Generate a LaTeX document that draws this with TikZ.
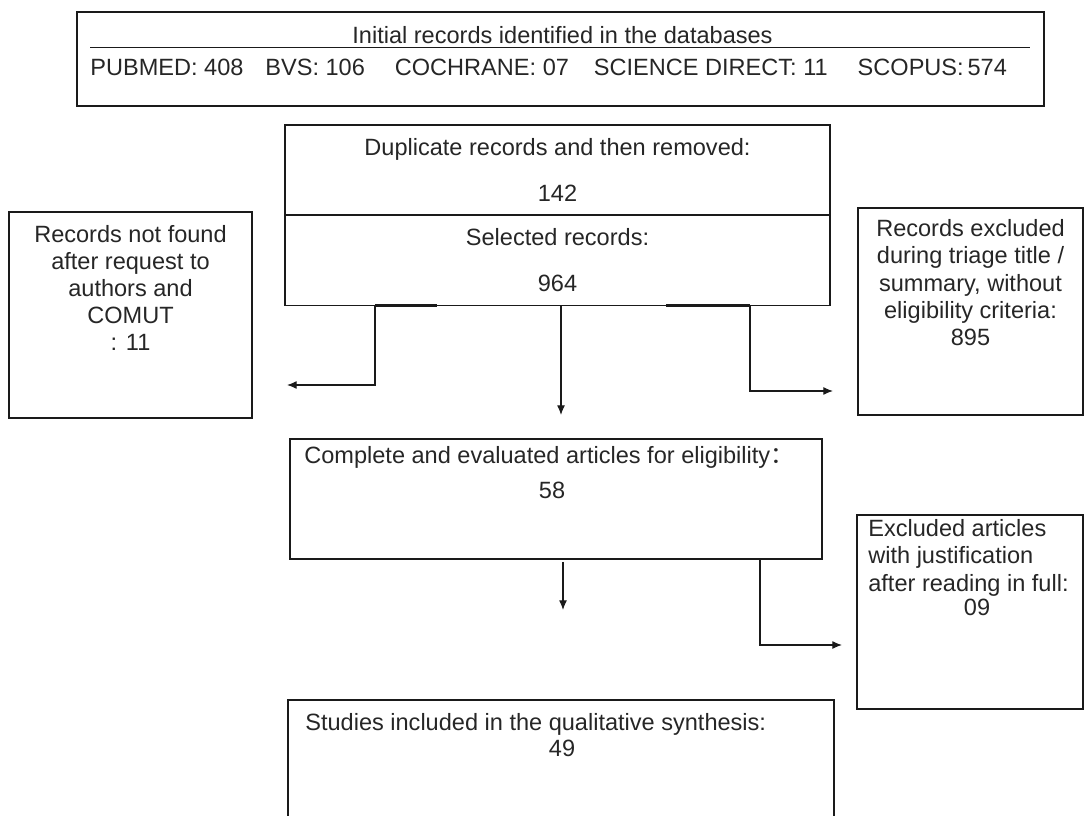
\documentclass[tikz,border=0pt]{standalone}
\usepackage{fontspec}
\setmainfont{Liberation Sans}
\newfontfamily\cjk{Noto Sans CJK SC}
\usepackage{tikz}
\usetikzlibrary{calc,arrows.meta}
\usetikzlibrary{positioning}
\definecolor{pr-line}{HTML}{1A1A1A}
\definecolor{pr-text}{HTML}{262626}

\begin{document}
\begin{tikzpicture}[
    >={Latex[length=5.5pt,width=4.5pt]},
    box/.style={draw=pr-line, line width=0.9pt, inner sep=0pt, outer sep=0pt},
    txt/.style={font=\fontsize{13.4}{15.4}\selectfont, text=pr-text, inner sep=0pt},
    conn/.style={->, line width=0.6pt, draw=pr-line},
    tab/.style={line width=1.6pt, draw=pr-line}
]
\useasboundingbox (0,0) rectangle (21.7,16.3);
\clip (0,0) rectangle (21.7,16.3);

% ── Registros iniciais nas bases ──────────────────────────────
\node[box, minimum width=19.34cm, minimum height=1.88cm] (db) at (11.21, 15.12) {};
\node[txt] (dbhead) at (11.25, 15.6) {Initial records identified in the databases};
\draw[line width=0.8pt, draw=pr-line] (1.8, 15.35) -- (20.6, 15.35);
\node[txt, anchor=west] (dblist) at (1.8, 14.96) {PUBMED: 408\hspace{0.44cm}BVS: 106\hspace{0.6cm}COCHRANE: 07\hspace{0.5cm}SCIENCE DIRECT: 11\hspace{0.6cm}SCOPUS:\,574};

% ── Duplicados / selecionados ─────────────────────────────────
\node[box, txt, align=center, minimum width=10.9cm, minimum height=1.8cm] (dup) at (11.15, 12.9) {Duplicate records and then removed:\\[10.8pt]142};
\node[box, txt, align=center, minimum width=10.9cm, minimum height=1.81cm, below=0pt of dup] (sel) {Selected records:\\[10.8pt]964};

% ── Coluna da esquerda / direita (exclusões) ──────────────────
\node[box, minimum width=4.85cm, minimum height=4.13cm] (nf) at (2.61, 10.0) {};
\node[txt, align=center, below=0.26cm] (nftxt) at (nf.north) {Records not found\\after request to\\authors and\\COMUT\\: 11};

\node[box, minimum width=4.5cm, minimum height=4.14cm] (tri) at (19.41, 10.07) {};
\node[txt, align=center, below=0.23cm] (tritxt) at (tri.north) {Records excluded\\during triage title /\\summary, without\\eligibility criteria:\\895};

% ── Artigos completos ─────────────────────────────────────────
\node[box, minimum width=10.64cm, minimum height=2.4cm] (comp) at (11.12, 6.32) {};
\node[txt, anchor=north west] (comptxt) at ([xshift=0.28cm, yshift=-0.15cm]comp.north west) {Complete and evaluated articles for eligibility{\cjk ：}};
\node[txt] (compnum) at (11.04, 6.5) {58};

\node[box, minimum width=4.52cm, minimum height=3.88cm] (excl) at (19.4, 4.06) {};
\node[txt, align=left, anchor=north west] (excltxt) at ([xshift=0.22cm, yshift=-0.09cm]excl.north west) {Excluded articles\\with justification\\after reading in full:};
\node[txt] (exclnum) at (19.54, 4.16) {09};

% ── Síntese qualitativa ───────────────────────────────────────
\node[box, minimum width=10.92cm, minimum height=2.8cm] (stud) at (11.22, 0.9) {};
\node[txt, anchor=north west] (studtxt) at ([xshift=0.34cm, yshift=-0.27cm]stud.north west) {Studies included in the qualitative synthesis:};
\node[txt] (studnum) at (11.24, 1.34) {49};

% ── Setas ─────────────────────────────────────────────────────
\coordinate (nfin) at (5.74, 8.6);
\coordinate (compin) at (11.22, 8.0);
\coordinate (triin) at (16.66, 8.48);
\coordinate (studin) at (11.26, 4.1);
\coordinate (exclin) at (16.84, 3.4);

\draw[tab] ([xshift=-3.65cm]sel.south) -- ++(1.24, 0);
\draw[tab] ([xshift=2.17cm]sel.south) -- ++(1.68, 0);

\draw[conn] ([xshift=-3.65cm]sel.south) |- (nfin);
\draw[conn] ([xshift=0.07cm]sel.south) -- (compin);
\draw[conn] ([xshift=3.85cm]sel.south) |- (triin);

\draw[conn] ([xshift=0.14cm, yshift=-0.06cm]comp.south) -- (studin);
\draw[conn] ([xshift=4.08cm]comp.south) |- (exclin);

\end{tikzpicture}
\end{document}
